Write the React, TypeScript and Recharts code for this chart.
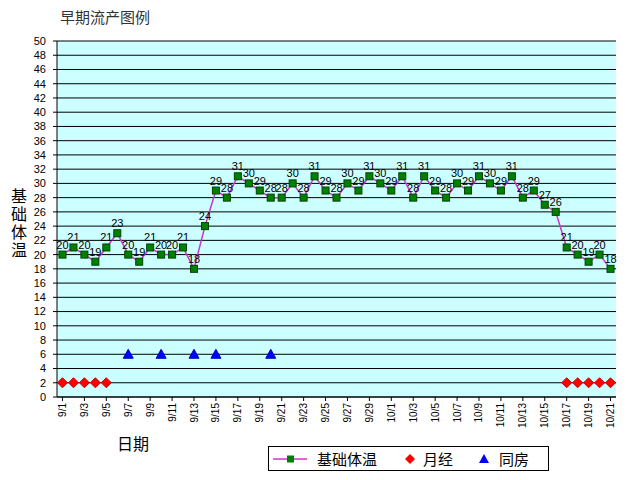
import { ComposedChart, Line, XAxis, YAxis, CartesianGrid, Legend, LabelList } from 'recharts';

// dates from 9/1 to 10/21
const dates = [
  '9/1', '9/2', '9/3', '9/4', '9/5', '9/6', '9/7', '9/8', '9/9', '9/10',
  '9/11', '9/12', '9/13', '9/14', '9/15', '9/16', '9/17', '9/18', '9/19', '9/20',
  '9/21', '9/22', '9/23', '9/24', '9/25', '9/26', '9/27', '9/28', '9/29', '9/30',
  '10/1', '10/2', '10/3', '10/4', '10/5', '10/6', '10/7', '10/8', '10/9', '10/10',
  '10/11', '10/12', '10/13', '10/14', '10/15', '10/16', '10/17', '10/18', '10/19', '10/20',
  '10/21',
];

const temps = [
  20, 21, 20, 19, 21, 23, 20, 19, 21, 20,
  20, 21, 18, 24, 29, 28, 31, 30, 29, 28,
  28, 30, 28, 31, 29, 28, 30, 29, 31, 30,
  29, 31, 28, 31, 29, 28, 30, 29, 31, 30,
  29, 31, 28, 29, 27, 26, 21, 20, 19, 20,
  18,
];

const mensesDays = ['9/1', '9/2', '9/3', '9/4', '9/5', '10/17', '10/18', '10/19', '10/20', '10/21'];
const mensesLevel = 2;
const sexDays = ['9/7', '9/10', '9/13', '9/15', '9/20'];
const sexLevel = 6;

const yTicks = Array.from({ length: 26 }, (_, i) => i * 2);

const chartData = dates.map((d, i) => ({
  date: d,
  temp: temps[i],
  menses: mensesDays.includes(d) ? mensesLevel : null,
  sex: sexDays.includes(d) ? sexLevel : null,
}));

const numFont = '"Liberation Sans", Arial, sans-serif';
const cjkFont = '"Noto Sans CJK SC", sans-serif';

const DateTick = ({ x, y, payload }: any) => (
  <text
    x={x}
    y={y}
    transform={`rotate(-90 ${x} ${y})`}
    textAnchor="end"
    dy="0.35em"
    fontSize={10}
    fontFamily={numFont}
    fill="#000"
  >
    {payload.value}
  </text>
);

const SquareDot = ({ cx, cy, index }: any) => {
  if (cx == null || cy == null) return <g key={`s${index}`} />;
  return <rect key={`s${index}`} x={cx - 3.5} y={cy - 3.5} width={7} height={7} fill="#008000" stroke="#004400" strokeWidth={1} />;
};

const DiamondDot = ({ cx, cy, index }: any) => {
  if (cx == null || cy == null) return <g key={`d${index}`} />;
  return <polygon key={`d${index}`} points={`${cx},${cy - 5} ${cx + 5},${cy} ${cx},${cy + 5} ${cx - 5},${cy}`} fill="#FF0000" stroke="#CC0000" />;
};

const TriangleDot = ({ cx, cy, index }: any) => {
  if (cx == null || cy == null) return <g key={`t${index}`} />;
  return <polygon key={`t${index}`} points={`${cx},${cy - 5} ${cx + 5},${cy + 4} ${cx - 5},${cy + 4}`} fill="#0000FF" stroke="#0000CC" />;
};

const LegendBox = () => (
  <div
    style={{
      border: '1px solid #000',
      height: 23,
      display: 'flex',
      alignItems: 'center',
      fontFamily: cjkFont,
      fontSize: 15,
      color: '#000',
      background: '#fff',
    }}
  >
    <svg width={40} height={20} style={{ marginLeft: 4 }}>
      <line x1={0} y1={10} x2={34} y2={10} stroke="#CC33CC" strokeWidth={1.5} />
      <rect x={14} y={6.5} width={7} height={7} fill="#008000" />
    </svg>
    <span style={{ marginLeft: 4 }}>基础体温</span>
    <svg width={14} height={20} style={{ marginLeft: 26 }}>
      <polygon points="7,5 12,10 7,15 2,10" fill="#FF0000" />
    </svg>
    <span style={{ marginLeft: 6 }}>月经</span>
    <svg width={14} height={20} style={{ marginLeft: 24 }}>
      <polygon points="7,5 12,14 2,14" fill="#0000FF" />
    </svg>
    <span style={{ marginLeft: 8 }}>同房</span>
  </div>
);

export default function App() {
  return (
    <div style={{ position: 'absolute', left: 0, top: 0, width: 640, height: 480, background: '#fff' }}>
      <div style={{ position: 'absolute', left: 60, top: 7, fontFamily: cjkFont, fontSize: 15, color: '#333', lineHeight: '20px' }}>
        早期流产图例
      </div>
      <div
        style={{
          position: 'absolute',
          left: 10,
          top: 188,
          writingMode: 'vertical-rl',
          fontFamily: cjkFont,
          fontSize: 16,
          letterSpacing: 2,
          lineHeight: '18px',
          color: '#000',
        }}
      >
        基础体温
      </div>
      <div style={{ position: 'absolute', left: 117, top: 433, fontFamily: cjkFont, fontSize: 16, lineHeight: '20px', color: '#000' }}>
        日期
      </div>
      <ComposedChart
        width={640}
        height={480}
        data={chartData}
        margin={{ top: 41, right: 24, bottom: 13, left: 17 }}
      >
        <CartesianGrid vertical={false} stroke="#000" fill="#CCFFFF" fillOpacity={1} />
        <XAxis
          dataKey="date"
          scale="band"
          interval={1}
          tick={<DateTick />}
          tickSize={4}
          tickMargin={2}
          axisLine={{ stroke: '#000' }}
          tickLine={{ stroke: '#000' }}
          height={70}
        />
        <YAxis
          domain={[0, 50]}
          ticks={yTicks}
          interval={0}
          width={40}
          tickSize={4}
          tickMargin={7}
          axisLine={{ stroke: '#000' }}
          tickLine={{ stroke: '#000' }}
          tick={{ fontSize: 11, fontFamily: numFont, fill: '#000' }}
        />
        <YAxis
          yAxisId="r"
          orientation="right"
          domain={[0, 50]}
          width={0}
          tick={false}
          tickLine={false}
          axisLine={{ stroke: '#000' }}
        />
        <Line
          dataKey="temp"
          stroke="#CC33CC"
          strokeWidth={1.5}
          dot={<SquareDot />}
          isAnimationActive={false}
        >
          <LabelList dataKey="temp" position="top" offset={6} fontSize={11} fontFamily={numFont} fill="#000" />
        </Line>
        <Line dataKey="menses" stroke="none" dot={<DiamondDot />} activeDot={false} isAnimationActive={false} />
        <Line dataKey="sex" stroke="none" dot={<TriangleDot />} activeDot={false} isAnimationActive={false} />
        <Legend
          layout="horizontal"
          verticalAlign="middle"
          align="center"
          content={<LegendBox />}
          wrapperStyle={{ left: 268, top: 446, width: 281, height: 25 }}
        />
      </ComposedChart>
    </div>
  );
}
